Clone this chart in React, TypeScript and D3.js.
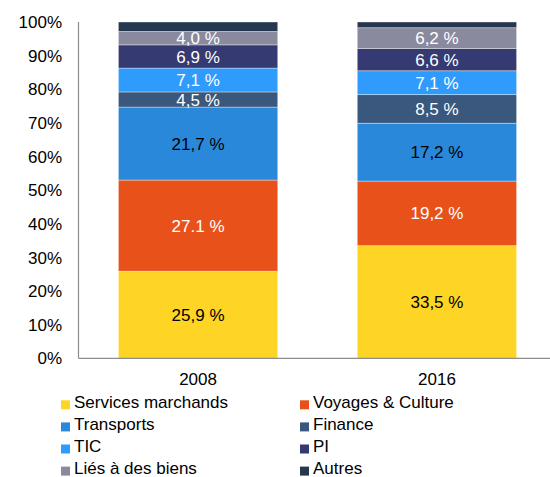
import React from "react";
import * as d3 from "d3";

const years = ["2008", "2016"];
const seriesNames = [
  "Services marchands",
  "Voyages & Culture",
  "Transports",
  "Finance",
  "TIC",
  "PI",
  "Liés à des biens",
  "Autres",
];
const values2008 = [25.9, 27.1, 21.7, 4.5, 7.1, 6.9, 4.0, 2.8];
const values2016 = [33.5, 19.2, 17.2, 8.5, 7.1, 6.6, 6.2, 1.7];
const labels2008 = ["25,9 %", "27.1 %", "21,7 %", "4,5 %", "7,1 %", "6,9 %", "4,0 %", ""];
const labels2016 = ["33,5 %", "19,2 %", "17,2 %", "8,5 %", "7,1 %", "6,6 %", "6,2 %", ""];
const yTicks = [0, 10, 20, 30, 40, 50, 60, 70, 80, 90, 100];

const colors = ["#FED524", "#E8511A", "#2A88DA", "#3A577D", "#2F9BFD", "#353A72", "#8A8A9F", "#263750"];
const labelColors = ["#000", "#fff", "#000", "#fff", "#fff", "#fff", "#fff", "#fff"];

export default function App() {
  const W = 550, H = 477;
  const left = 78.5, right = 550, top = 22, bottom = 358.3;
  const x = d3.scaleBand().domain(years).range([left, left + 478]).paddingInner(0.333).paddingOuter(0.167);
  const y = d3.scaleLinear().domain([0, 100]).range([bottom, top]);
  const allVals = [values2008, values2016];
  const allLabels = [labels2008, labels2016];
  const font = "'Liberation Sans', Arial, sans-serif";

  return (
    <svg width={W} height={H} style={{ position: "absolute", left: 0, top: 0, fontFamily: font }}>
      <rect width={W} height={H} fill="#fff" />
      {years.map((yr, i) => {
        let cum = 0;
        const vals = allVals[i];
        return (
          <g key={yr}>
            {vals.map((v, j) => {
              const y0 = cum;
              cum += v;
              const yTop = y(cum), yBot = y(y0);
              return (
                <g key={j}>
                  <rect x={x(yr)} y={yTop} width={x.bandwidth()} height={yBot - yTop} fill={colors[j]}
                    stroke="#ffffff" strokeOpacity={0.45} strokeWidth={0.8} />
                  {allLabels[i][j] && (
                    <text x={(x(yr) as number) + x.bandwidth() / 2} y={(yTop + yBot) / 2} dy="0.36em"
                      textAnchor="middle" fontSize={17} fill={labelColors[j]}>{allLabels[i][j]}</text>
                  )}
                </g>
              );
            })}
          </g>
        );
      })}
      <line x1={left} x2={left} y1={top} y2={bottom} stroke="#8c8c8c" strokeWidth={1.2} />
      <line x1={left} x2={right} y1={bottom} y2={bottom} stroke="#8c8c8c" strokeWidth={1.2} />
      {yTicks.map((t) => (
        <text key={t} x={62} y={y(t)} dy="0.36em" textAnchor="end" fontSize={17} fill="#000">{t}%</text>
      ))}
      {years.map((yr) => (
        <text key={yr} x={(x(yr) as number) + x.bandwidth() / 2} y={385} textAnchor="middle" fontSize={17} fill="#000">{yr}</text>
      ))}
      {seriesNames.map((n, k) => {
        const col = k % 2, row = Math.floor(k / 2);
        const lx = col === 0 ? 61 : 300;
        const ly = 407.8 + row * 22.1;
        return (
          <g key={n}>
            <rect x={lx} y={ly - 7.5} width={9} height={9} fill={colors[k]} />
            <text x={lx + 13} y={ly} fontSize={17} fill="#000">{n}</text>
          </g>
        );
      })}
    </svg>
  );
}
